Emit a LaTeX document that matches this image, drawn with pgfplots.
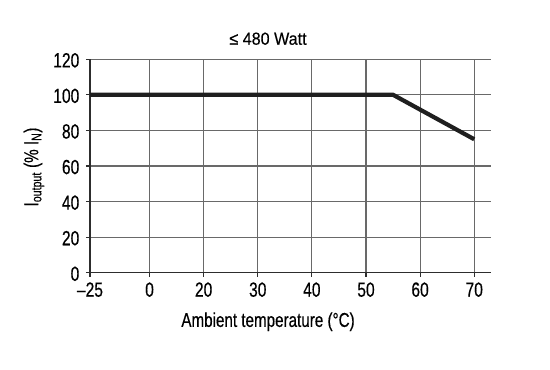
\documentclass[border=0pt]{standalone}
\usepackage{fontspec}
\setmainfont{Liberation Sans}[FakeStretch=0.76, FakeBold=0.4]
\newfontfamily\titlefont{Liberation Sans}[FakeStretch=0.92, FakeBold=0.3]
\usepackage{pgfplots}
\pgfplotsset{compat=1.18}
\definecolor{gridc}{RGB}{105,105,105}
\definecolor{axc}{RGB}{45,45,45}
\begin{document}
\begin{tikzpicture}
\path[use as bounding box] (-90bp,-97.3bp) rectangle (460bp,272.7bp);
\begin{axis}[
  at={(0,0)}, anchor=south west,
  scale only axis, width=401bp, height=213.5bp,
  xmin=-1, xmax=73.1, ymin=0, ymax=120,
  axis lines=left,
  axis line style={-, line width=1.3bp, color=axc},
  xtick={-1,10,20,30,40,50,60,70},
  xticklabels={–25,0,20,30,40,50,60,70},
  ytick={0,20,40,60,80,100,120},
  grid=major,
  major grid style={gridc, line width=1.2bp},
  tick style={axc, line width=1.2bp},
  major tick length=4bp, tick align=outside,
  /pgf/number format/assume math mode=true,
  tick label style={font=\fontsize{20.5bp}{21bp}\selectfont, inner sep=1bp, text depth=0pt},
  yticklabel style={yshift=-1bp, xshift=-5.5bp},
  xticklabel style={yshift=-4.5bp},
  every axis title/.style={at={(rel axis cs:0.444,1)}, yshift=20.5bp, anchor=center, font=\titlefont\fontsize{17.5bp}{18bp}\selectfont},
  every axis x label/.style={at={(rel axis cs:0.444,0)}, yshift=-49bp, anchor=center, font=\fontsize{20bp}{21bp}\selectfont},
  every axis y label/.style={at={(rel axis cs:0,0.495)}, xshift=-56bp, rotate=90, anchor=center, font=\fontsize{20bp}{21bp}\selectfont},
  title={≤ 480 Watt},
  xlabel={Ambient temperature (°C)},
  ylabel={I\textsubscript{output} (\% I\textsubscript{N})},
]
\addplot[line width=4.2bp, color=black!88, mark=none] coordinates {(-1,100) (55,100) (70,75)};
\end{axis}
\end{tikzpicture}
\end{document}
